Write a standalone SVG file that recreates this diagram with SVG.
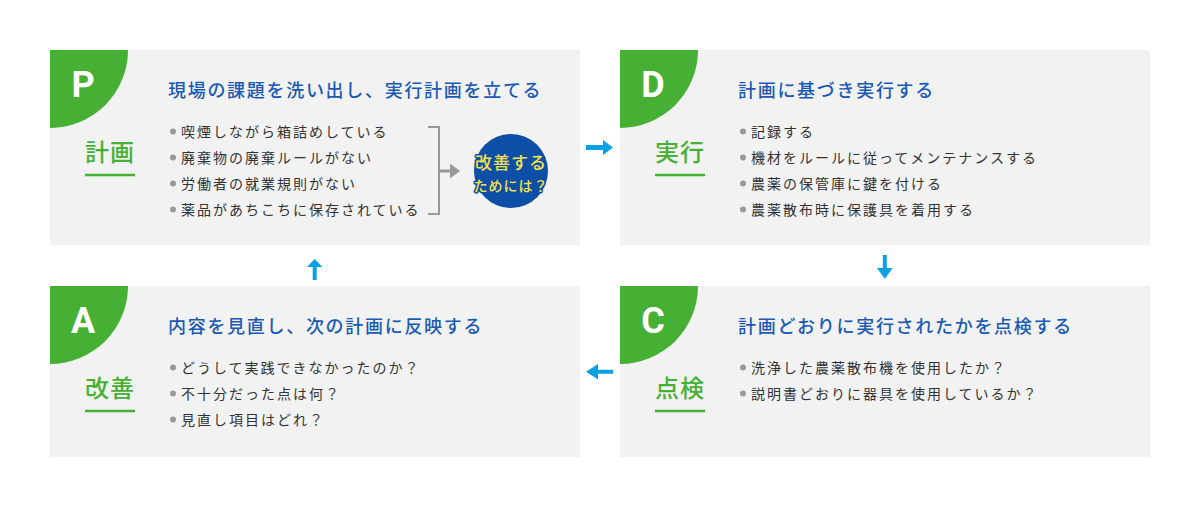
<svg xmlns="http://www.w3.org/2000/svg" width="1200" height="507" viewBox="0 0 1200 507">
<defs>
<style>
.panel{fill:#f2f2f2}
.corner{fill:#46b035}
.letter{font-family:Roboto,"Liberation Sans",sans-serif;font-weight:700;font-size:36px;fill:#fff;text-anchor:middle}
.label{font-family:"Noto Sans CJK JP",sans-serif;font-weight:500;font-size:24px;fill:#46b035;text-anchor:middle;letter-spacing:1px}
.uline{stroke:#46b035;stroke-width:2.5}
.title{font-family:"Noto Sans CJK JP",sans-serif;font-weight:500;font-size:18px;fill:#1a5ab4;letter-spacing:1.7px}
.item{font-family:"Noto Sans CJK JP",sans-serif;font-size:14px;fill:#333;letter-spacing:2px}
.dot{fill:#999}
.flow{fill:#0aa0e4}
.circ{font-family:"Noto Sans CJK JP",sans-serif;font-weight:500;fill:#f7e24a;stroke:#0d4ea6;stroke-width:3;paint-order:stroke;text-anchor:middle;stroke-linejoin:round}
</style>
</defs>

<g id="plan">
<rect class="panel" x="50" y="50" width="530" height="195"/>
<path class="corner" d="M50,50 H128 A78,78 0 0 1 50,128 Z"/>
<text class="letter" x="83" y="97">P</text>
<text class="label" x="110" y="161">計画</text>
<line class="uline" x1="85" y1="175" x2="135" y2="175"/>
<text class="title" x="168" y="97">現場の課題を洗い出し、実行計画を立てる</text>
<circle class="dot" cx="173" cy="131.5" r="3"/>
<text class="item" x="181" y="137">喫煙しながら箱詰めしている</text>
<circle class="dot" cx="173" cy="157.5" r="3"/>
<text class="item" x="181" y="163">廃棄物の廃棄ルールがない</text>
<circle class="dot" cx="173" cy="183.5" r="3"/>
<text class="item" x="181" y="189">労働者の就業規則がない</text>
<circle class="dot" cx="173" cy="209.5" r="3"/>
<text class="item" x="181" y="215">薬品があちこちに保存されている</text>
<path d="M428,127 H439 V214 H428" fill="none" stroke="#999" stroke-width="2"/>
<path d="M439,171 H451" stroke="#999" stroke-width="3"/>
<path d="M450,163.5 L460,171 L450,178.5 Z" fill="#999"/>
<circle cx="511" cy="171" r="37" fill="#0d4ea6"/>
<text class="circ" x="511" y="169" font-size="17" letter-spacing="1">改善する</text>
<text class="circ" x="511" y="191" font-size="14" letter-spacing="1">ためには？</text>
</g>

<g id="do">
<rect class="panel" x="620" y="50" width="530" height="195"/>
<path class="corner" d="M620,50 H698 A78,78 0 0 1 620,128 Z"/>
<text class="letter" x="653" y="97">D</text>
<text class="label" x="680" y="161">実行</text>
<line class="uline" x1="655" y1="175" x2="705" y2="175"/>
<text class="title" x="738" y="97">計画に基づき実行する</text>
<circle class="dot" cx="743" cy="131.5" r="3"/>
<text class="item" x="751" y="137">記録する</text>
<circle class="dot" cx="743" cy="157.5" r="3"/>
<text class="item" x="751" y="163">機材をルールに従ってメンテナンスする</text>
<circle class="dot" cx="743" cy="183.5" r="3"/>
<text class="item" x="751" y="189">農薬の保管庫に鍵を付ける</text>
<circle class="dot" cx="743" cy="209.5" r="3"/>
<text class="item" x="751" y="215">農薬散布時に保護具を着用する</text>
</g>

<g id="act">
<rect class="panel" x="50" y="286" width="530" height="171"/>
<path class="corner" d="M50,286 H128 A78,78 0 0 1 50,364 Z"/>
<text class="letter" x="83" y="333">A</text>
<text class="label" x="110" y="397">改善</text>
<line class="uline" x1="85" y1="411" x2="135" y2="411"/>
<text class="title" x="168" y="333">内容を見直し、次の計画に反映する</text>
<circle class="dot" cx="173" cy="367.5" r="3"/>
<text class="item" x="181" y="373">どうして実践できなかったのか？</text>
<circle class="dot" cx="173" cy="393.5" r="3"/>
<text class="item" x="181" y="399">不十分だった点は何？</text>
<circle class="dot" cx="173" cy="419.5" r="3"/>
<text class="item" x="181" y="425">見直し項目はどれ？</text>
</g>

<g id="check">
<rect class="panel" x="620" y="286" width="530" height="171"/>
<path class="corner" d="M620,286 H698 A78,78 0 0 1 620,364 Z"/>
<text class="letter" x="653" y="333">C</text>
<text class="label" x="680" y="397">点検</text>
<line class="uline" x1="655" y1="411" x2="705" y2="411"/>
<text class="title" x="738" y="333">計画どおりに実行されたかを点検する</text>
<circle class="dot" cx="743" cy="367.5" r="3"/>
<text class="item" x="751" y="373">洗浄した農薬散布機を使用したか？</text>
<circle class="dot" cx="743" cy="393.5" r="3"/>
<text class="item" x="751" y="399">説明書どおりに器具を使用しているか？</text>
</g>

<g id="connectors">
<path class="flow" d="M586,145 H603 V140 L613,147.5 L603,155 V150 H586 Z"/>
<path class="flow" d="M882.8,255 V268 H877 L884.8,279 L892.6,268 H886.8 V255 Z"/>
<path class="flow" d="M312.7,280 V267 H307 L314.7,259 L322.4,267 H316.7 V280 Z"/>
<path class="flow" d="M613,369.7 H598 V364 L586,371.7 L598,379.4 V373.7 H613 Z"/>
</g>
</svg>
